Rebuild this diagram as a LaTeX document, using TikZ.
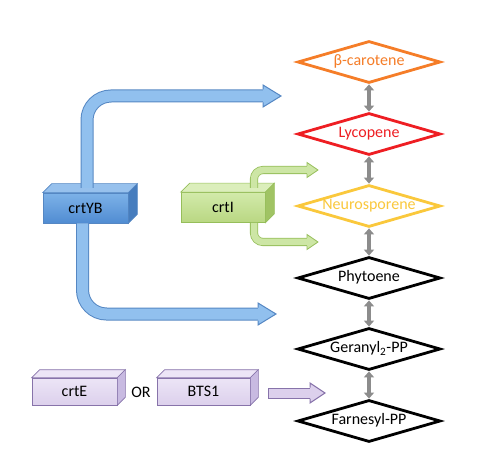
\documentclass[tikz,border=0pt]{standalone}
\usepackage{fontspec}
\setmainfont{Carlito}
\usetikzlibrary{shapes.geometric,arrows.meta}
\definecolor{carorange}{RGB}{245,125,40}
\definecolor{lycred}{RGB}{238,30,35}
\definecolor{neuyellow}{RGB}{250,200,60}
\definecolor{arrgray}{RGB}{140,140,140}
\definecolor{bluetop}{RGB}{125,178,232}
\definecolor{bluebot}{RGB}{80,140,210}
\definecolor{blueside}{RGB}{70,125,190}
\definecolor{blueedge}{RGB}{85,135,195}
\definecolor{bluearr}{RGB}{145,192,238}
\definecolor{greentop}{RGB}{210,234,170}
\definecolor{greenbot}{RGB}{185,215,130}
\definecolor{greenside}{RGB}{160,195,100}
\definecolor{greenedge}{RGB}{150,190,90}
\definecolor{greenarr}{RGB}{205,230,165}
\definecolor{purptop}{RGB}{236,229,246}
\definecolor{purpbot}{RGB}{220,208,236}
\definecolor{purpside}{RGB}{200,186,225}
\definecolor{purpedge}{RGB}{135,115,170}
\tikzset{
  molec/.style={diamond,draw,line width=2.8pt,aspect=3.2,minimum width=143pt,minimum height=42pt,inner sep=0pt,fill=white,text height=9pt,text depth=2pt,font=\fontsize{16}{18}\selectfont},
  convarr/.style={{Triangle[length=6pt,width=10pt]}-{Triangle[length=6pt,width=10pt]},line width=3.2pt,draw=arrgray},
  genebox/.style={draw,line width=0.7pt,minimum height=30pt,inner sep=0pt,font=\fontsize{16}{18}\selectfont},
  bluebox/.style={genebox,draw=blueedge,top color=bluetop,bottom color=bluebot},
  greenbox/.style={genebox,draw=greenedge,top color=greentop,bottom color=greenbot},
  purpbox/.style={genebox,draw=purpedge,minimum height=27pt,top color=purptop,bottom color=purpbot},
  blueshaft/.style={line width=1pt,draw=blueedge,double=bluearr,double distance=11pt,rounded corners=24pt},
  greenshaft/.style={line width=0.8pt,draw=greenedge,double=greenarr,double distance=6.5pt,rounded corners=9pt}
}
\begin{document}
\begin{tikzpicture}[x=1pt,y=-1pt]
  \useasboundingbox (0,0) rectangle (482,465);

  % --- pathway, from top to bottom ---
  \node[molec,draw=carorange,text=carorange] (bcar) at (369,62) {β-carotene};
  \node[molec,draw=lycred,text=lycred] (lyc) at (369,134) {Lycopene};
  \node[molec,draw=neuyellow,text=neuyellow] (neu) at (369,206) {Neurosporene};
  \node[molec] (phy) at (369,278) {Phytoene};
  \node[molec] (ger) at (369,349) {Geranyl\textsubscript{2}-PP};
  \node[molec] (far) at (369,421) {Farnesyl-PP};

  \draw[convarr] (bcar.south) -- (lyc.north);
  \draw[convarr] (lyc.south) -- (neu.north);
  \draw[convarr] (neu.south) -- (phy.north);
  \draw[convarr] (phy.south) -- (ger.north);
  \draw[convarr] (ger.south) -- (far.north);

  % --- crtYB ---
  \node[bluebox,minimum width=85pt] (ybox) at (85.5,208) {crtYB\hspace{3pt}};
  \fill[bluetop!80!white,draw=blueedge,line width=0.7pt] (ybox.north west) -- ++(9,-9) -- ([shift={(9,-9)}]ybox.north east) -- (ybox.north east) -- cycle;
  \fill[blueside,draw=blueedge,line width=0.7pt] (ybox.north east) -- ++(9,-9) -- ([shift={(9,-9)}]ybox.south east) -- (ybox.south east) -- cycle;

  \coordinate (yb-up) at (281,96);
  \coordinate (yb-down) at (276,314);
  \draw[blueshaft] (87,188) |- ([xshift=-17pt]yb-up);
  \fill[bluearr] (yb-up) -- ++(-18,-11) -- ++(0,22) -- cycle;
  \draw[blueedge,line width=1pt] ([shift={(-18,-6.5)}]yb-up) -- ++(0,-4.5) -- (yb-up) -- ++(-18,11) -- ++(0,-4.5);
  \draw[blueshaft] (ybox.south) ++(-3,0) |- ([xshift=-17pt]yb-down);
  \fill[bluearr] (yb-down) -- ++(-18,-11) -- ++(0,22) -- cycle;
  \draw[blueedge,line width=1pt] ([shift={(-18,-6.5)}]yb-down) -- ++(0,-4.5) -- (yb-down) -- ++(-18,11) -- ++(0,-4.5);

  % --- crtI ---
  \node[greenbox,minimum width=84pt] (ibox) at (223,207.5) {crtI\hspace{14pt}};
  \fill[greentop!80!white,draw=greenedge,line width=0.7pt] (ibox.north west) -- ++(9,-9) -- ([shift={(9,-9)}]ibox.north east) -- (ibox.north east) -- cycle;
  \fill[greenside,draw=greenedge,line width=0.7pt] (ibox.north east) -- ++(9,-9) -- ([shift={(9,-9)}]ibox.south east) -- (ibox.south east) -- cycle;

  \coordinate (i-up) at (318,170);
  \coordinate (i-down) at (318,242);
  \draw[greenshaft] (254,188) |- ([xshift=-10pt]i-up);
  \fill[greenarr] (i-up) -- ++(-11,-7.5) -- ++(0,15) -- cycle;
  \draw[greenedge,line width=0.8pt] ([shift={(-11,-4)}]i-up) -- ++(0,-3.5) -- (i-up) -- ++(-11,7.5) -- ++(0,-3.5);
  \draw[greenshaft] (254,223) |- ([xshift=-10pt]i-down);
  \fill[greenarr] (i-down) -- ++(-11,-7.5) -- ++(0,15) -- cycle;
  \draw[greenedge,line width=0.8pt] ([shift={(-11,-4)}]i-down) -- ++(0,-3.5) -- (i-down) -- ++(-11,7.5) -- ++(0,-3.5);

  % --- crtE or BTS1 ---
  \node[purpbox,minimum width=85pt] (ebox) at (74.5,391.5) {crtE\hspace{12pt}};
  \fill[purptop,draw=purpedge,line width=0.7pt] (ebox.north west) -- ++(8,-8) -- ([shift={(8,-8)}]ebox.north east) -- (ebox.north east) -- cycle;
  \fill[purpside,draw=purpedge,line width=0.7pt] (ebox.north east) -- ++(8,-8) -- ([shift={(8,-8)}]ebox.south east) -- (ebox.south east) -- cycle;
  \node[font=\fontsize{16}{18}\selectfont] (or) at (141,392) {OR};
  \node[purpbox,minimum width=93pt] (btsbox) at (203.5,391.5) {BTS1\hspace{13pt}};
  \fill[purptop,draw=purpedge,line width=0.7pt] (btsbox.north west) -- ++(8,-8) -- ([shift={(8,-8)}]btsbox.north east) -- (btsbox.north east) -- cycle;
  \fill[purpside,draw=purpedge,line width=0.7pt] (btsbox.north east) -- ++(8,-8) -- ([shift={(8,-8)}]btsbox.south east) -- (btsbox.south east) -- cycle;

  \coordinate (e-from) at (268,393);
  \coordinate (e-to) at (325,393);
  \draw[line width=1pt,draw=purpedge,double=purpbot,double distance=9pt] (e-from) -- ([xshift=-14pt]e-to);
  \fill[purpbot] (e-to) -- ++(-15,-10) -- ++(0,20) -- cycle;
  \draw[purpedge,line width=1pt] ([shift={(-15,-5.5)}]e-to) -- ++(0,-4.5) -- (e-to) -- ++(-15,10) -- ++(0,-4.5);
  \draw[purpedge,line width=1pt] ([yshift=-5.5pt]e-from) -- ([yshift=5.5pt]e-from);

\end{tikzpicture}
\end{document}
